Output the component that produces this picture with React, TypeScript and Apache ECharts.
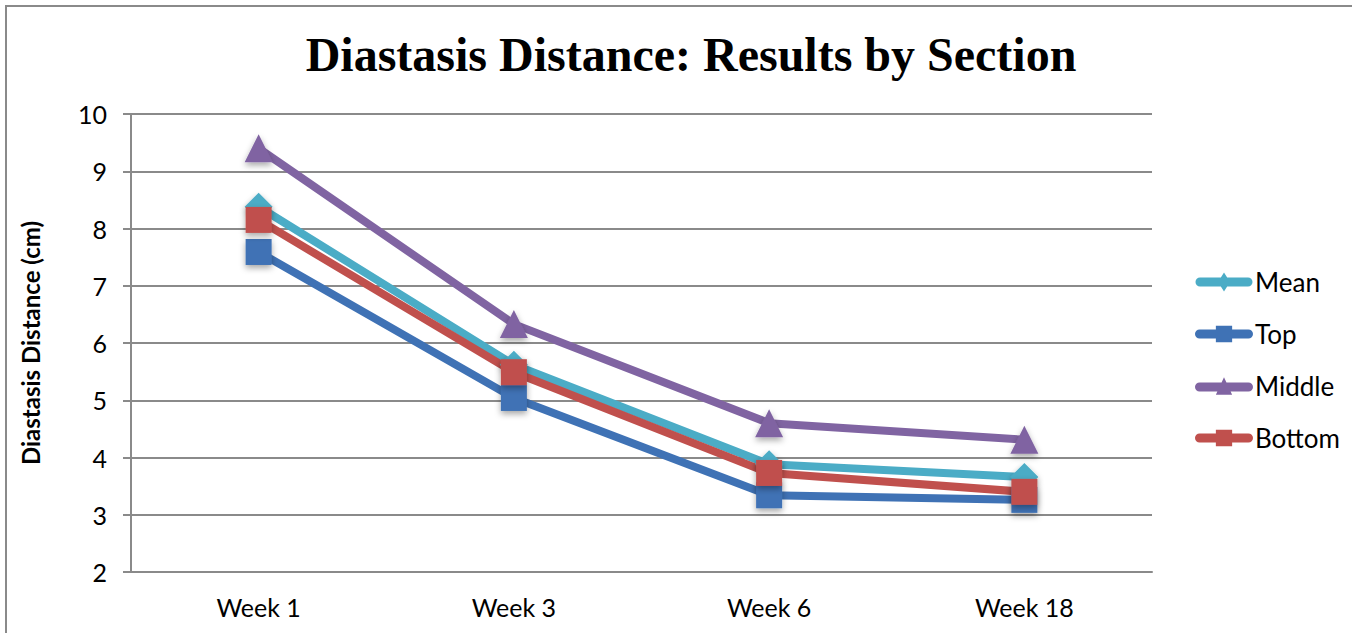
import React, { useEffect, useRef } from "react";
import * as echarts from "echarts";

const categories = ["Week 1", "Week 3", "Week 6", "Week 18"];
const meanValues = [8.38, 5.62, 3.88, 3.66];
const topValues = [7.59, 5.04, 3.34, 3.26];
const middleValues = [9.4, 6.33, 4.6, 4.31];
const bottomValues = [8.15, 5.49, 3.73, 3.4];
const yTicks = { min: 2, max: 10, interval: 1 };

const font = "Lato, 'Open Sans', sans-serif";

const bar = "M5,5 L53,5 A4.5,4.5 0 0 1 53,14 L5,14 A4.5,4.5 0 0 1 5,5 Z ";
const legendIcons: Record<string, string> = {
  Mean: "path://" + bar + "M29,0 L35,9.5 L29,19 L23,9.5 Z",
  Top: "path://" + bar + "M21,1.5 L37,1.5 L37,17.5 L21,17.5 Z",
  Middle: "path://" + bar + "M29,0 L37,17 L21,17 Z",
  Bottom: "path://" + bar + "M21,1.5 L37,1.5 L37,17.5 L21,17.5 Z",
};

export default function App() {
  const ref = useRef<HTMLDivElement>(null);
  useEffect(() => {
    document.body.style.margin = "0";
    const chart = echarts.init(ref.current!, null, { renderer: "svg" });
    const shadow = {
      shadowBlur: 6,
      shadowOffsetY: 3,
      shadowColor: "rgba(0,0,0,0.35)",
    };
    const mk = (name: string, data: number[], color: string, symbol: string, size: number) => ({
      name,
      type: "line",
      data,
      symbol,
      symbolSize: size,
      showAllSymbol: true,
      lineStyle: { color, width: 8, cap: "round" },
      itemStyle: { color, ...shadow },
      emphasis: { disabled: true },
    });
    const names = ["Mean", "Top", "Middle", "Bottom"];
    chart.setOption({
      animation: false,
      backgroundColor: "#fff",
      title: {
        text: "Diastasis Distance: Results by Section",
        left: 686,
        textAlign: "center",
        top: 25,
        textStyle: {
          fontFamily: "'Liberation Serif', serif",
          fontWeight: "bold",
          fontSize: 48,
          color: "#000",
        },
      },
      graphic: [
        {
          type: "rect",
          shape: { x: 6, y: 6, width: 1400, height: 700 },
          style: { fill: "none", stroke: "#8a8a8a", lineWidth: 2 },
          silent: true,
        },
      ],
      grid: { left: 131, right: 200, top: 114, bottom: 61 },
      legend: {
        orient: "vertical",
        left: 1190,
        top: 264,
        itemWidth: 58,
        itemHeight: 19,
        itemGap: 26,
        itemStyle: { shadowBlur: 0, shadowOffsetY: 0 },
        textStyle: { fontFamily: font, fontSize: 26, color: "#000", padding: [0, 0, 0, -3] },
        data: names.map((n) => ({ name: n, icon: legendIcons[n] })),
      },
      xAxis: {
        type: "category",
        data: categories,
        axisLine: { lineStyle: { color: "#8a8a8a", width: 2 } },
        axisTick: { show: false },
        axisLabel: { fontFamily: font, fontSize: 25, color: "#000", margin: 22 },
      },
      yAxis: {
        type: "value",
        min: yTicks.min,
        max: yTicks.max,
        interval: yTicks.interval,
        name: "Diastasis Distance (cm)",
        nameLocation: "middle",
        nameGap: 89,
        nameTextStyle: { fontFamily: font, fontSize: 24, fontWeight: "bold", color: "#000" },
        axisLine: { show: true, lineStyle: { color: "#8a8a8a", width: 2 } },
        axisTick: { show: true, length: 8, lineStyle: { color: "#8a8a8a", width: 2 } },
        axisLabel: { fontFamily: font, fontSize: 25, color: "#000", margin: 24 },
        splitLine: { lineStyle: { color: "#8a8a8a", width: 2 } },
      },
      series: [
        mk("Mean", meanValues, "#4bacc6", "diamond", 28),
        mk("Top", topValues, "#3f72b5", "rect", 26),
        mk("Middle", middleValues, "#8064a2", "triangle", 28),
        mk("Bottom", bottomValues, "#c0504d", "rect", 26),
      ],
    });
    return () => chart.dispose();
  }, []);
  return <div ref={ref} style={{ width: 1352, height: 633 }} />;
}
